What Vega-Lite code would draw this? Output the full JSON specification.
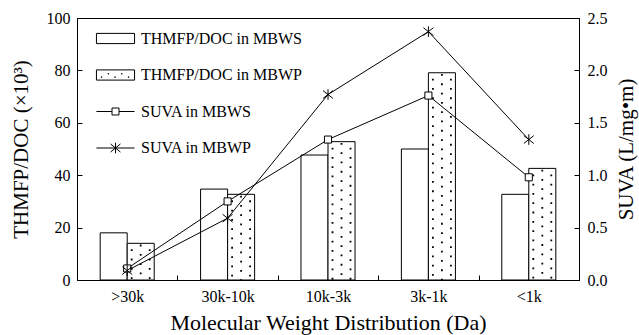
{
  "$schema": "https://vega.github.io/schema/vega-lite/v6.json",
  "width": 502,
  "height": 262,
  "autosize": {"type": "none"},
  "padding": {"left": 77, "top": 18, "right": 60, "bottom": 55},
  "background": "white",
  "config": {
    "font": "Liberation Serif",
    "view": {"stroke": "black", "strokeWidth": 1},
    "axis": {
      "labelFont": "Liberation Serif",
      "titleFont": "Liberation Serif",
      "labelFontSize": 16,
      "titleFontSize": 21,
      "titleFontWeight": "normal",
      "labelColor": "black",
      "titleColor": "black",
      "domainColor": "black",
      "tickColor": "black",
      "grid": false,
      "tickSize": -5
    },
    "legend": {"labelFont": "Liberation Serif", "labelFontSize": 16, "labelColor": "black", "labelLimit": 0}
  },
  "datasets": {
    "thm": [
      {"cat": ">30k", "series": "THMFP/DOC in MBWS", "val": 18.0},
      {"cat": ">30k", "series": "THMFP/DOC in MBWP", "val": 14.0},
      {"cat": "30k-10k", "series": "THMFP/DOC in MBWS", "val": 34.7},
      {"cat": "30k-10k", "series": "THMFP/DOC in MBWP", "val": 32.7},
      {"cat": "10k-3k", "series": "THMFP/DOC in MBWS", "val": 47.7},
      {"cat": "10k-3k", "series": "THMFP/DOC in MBWP", "val": 52.8},
      {"cat": "3k-1k", "series": "THMFP/DOC in MBWS", "val": 50.0},
      {"cat": "3k-1k", "series": "THMFP/DOC in MBWP", "val": 79.1},
      {"cat": "<1k", "series": "THMFP/DOC in MBWS", "val": 32.7},
      {"cat": "<1k", "series": "THMFP/DOC in MBWP", "val": 42.6}
    ],
    "suva": [
      {"cat": ">30k", "series": "SUVA in MBWS", "suva": 0.11},
      {"cat": "30k-10k", "series": "SUVA in MBWS", "suva": 0.75},
      {"cat": "10k-3k", "series": "SUVA in MBWS", "suva": 1.34},
      {"cat": "3k-1k", "series": "SUVA in MBWS", "suva": 1.76},
      {"cat": "<1k", "series": "SUVA in MBWS", "suva": 0.98},
      {"cat": ">30k", "series": "SUVA in MBWP", "suva": 0.09},
      {"cat": "30k-10k", "series": "SUVA in MBWP", "suva": 0.59},
      {"cat": "10k-3k", "series": "SUVA in MBWP", "suva": 1.77},
      {"cat": "3k-1k", "series": "SUVA in MBWP", "suva": 2.37},
      {"cat": "<1k", "series": "SUVA in MBWP", "suva": 1.34}
    ]
  },
  "encoding": {
    "x": {
      "field": "cat",
      "type": "nominal",
      "sort": [">30k", "30k-10k", "10k-3k", "3k-1k", "<1k"],
      "scale": {"domain": [">30k", "30k-10k", "10k-3k", "3k-1k", "<1k"], "paddingInner": 0, "paddingOuter": 0},
      "axis": {"title": "Molecular Weight Distribution (Da)", "titleFontSize": 22, "labelAngle": 0, "tickBand": "extent", "labelPadding": 13, "titlePadding": 8}
    }
  },
  "layer": [
    {
      "data": {"name": "thm"},
      "encoding": {
        "y": {
          "field": "val",
          "type": "quantitative",
          "scale": {"domain": [0, 100], "nice": false},
          "axis": {"title": "THMFP/DOC (×10³)", "values": [0, 20, 40, 60, 80, 100], "labelPadding": 12, "titlePadding": 15}
        }
      },
      "layer": [
        {
          "mark": {"type": "bar", "fill": "white", "stroke": "black", "strokeWidth": 1},
          "encoding": {
            "xOffset": {
              "field": "series",
              "type": "nominal",
              "scale": {"domain": ["THMFP/DOC in MBWS", "THMFP/DOC in MBWP"], "paddingOuter": 0.858, "paddingInner": 0}
            }
          }
        },
        {
          "transform": [{"filter": "datum.series === 'THMFP/DOC in MBWP'"}],
          "mark": {"type": "rule", "xOffset": 4.5, "color": "black", "strokeWidth": 1.8, "strokeDash": [1.8, 7.5], "strokeDashOffset": 3.3},
          "encoding": {"y2": {"datum": 0}}
        },
        {
          "transform": [{"filter": "datum.series === 'THMFP/DOC in MBWP'"}],
          "mark": {"type": "rule", "xOffset": 13.5, "color": "black", "strokeWidth": 1.8, "strokeDash": [1.8, 7.5], "strokeDashOffset": 8.0},
          "encoding": {"y2": {"datum": 0}}
        },
        {
          "transform": [{"filter": "datum.series === 'THMFP/DOC in MBWP'"}],
          "mark": {"type": "rule", "xOffset": 22.5, "color": "black", "strokeWidth": 1.8, "strokeDash": [1.8, 7.5], "strokeDashOffset": 3.3},
          "encoding": {"y2": {"datum": 0}}
        }
      ]
    },
    {
      "data": {"name": "suva"},
      "encoding": {
        "y": {
          "field": "suva",
          "type": "quantitative",
          "scale": {"domain": [0, 2.5], "nice": false},
          "axis": {"orient": "right", "title": "SUVA (L/mg•m)", "values": [0, 0.5, 1, 1.5, 2, 2.5], "format": ".1f", "labelPadding": 13, "titlePadding": 8, "titleAngle": -90, "titleBaseline": "top"}
        }
      },
      "layer": [
        {
          "mark": {"type": "line", "color": "black", "strokeWidth": 1},
          "encoding": {"detail": {"field": "series", "type": "nominal"}}
        },
        {
          "transform": [{"filter": "datum.series === 'SUVA in MBWS'"}],
          "mark": {"type": "point", "shape": "square", "filled": true, "fill": "white", "stroke": "black", "strokeWidth": 1, "opacity": 1, "size": 50}
        },
        {
          "transform": [{"filter": "datum.series === 'SUVA in MBWP'"}],
          "mark": {"type": "point", "shape": "M-1.4,-1.1L1.4,1.1M-1.4,1.1L1.4,-1.1M0,-1.5V1.5", "filled": false, "stroke": "black", "strokeWidth": 1, "opacity": 1, "size": 50}
        },
        {
          "mark": {"type": "point", "opacity": 0, "size": 50},
          "encoding": {
            "shape": {
              "field": "series",
              "type": "nominal",
              "scale": {
                "domain": ["THMFP/DOC in MBWS", "THMFP/DOC in MBWP", "SUVA in MBWS", "SUVA in MBWP"],
                "range": [
                  "M-1.27,-0.34H1.27V0.34H-1.27Z",
                  "M-1.27,-0.34H1.27V0.34H-1.27ZM-0.95,0.12h0.04v0.04h-0.04ZM-0.5,-0.1h0.04v0.04h-0.04ZM-0.05,0.12h0.04v0.04h-0.04ZM0.4,-0.1h0.04v0.04h-0.04ZM0.85,0.12h0.04v0.04h-0.04Z",
                  "M-1.27,0H-0.233M0.233,0H1.27M-0.233,-0.233H0.233V0.233H-0.233Z",
                  "M-1.27,0H1.27M-0.33,-0.27L0.33,0.27M-0.33,0.27L0.33,-0.27M0,-0.35V0.35"
                ]
              },
              "legend": {
                "orient": "none",
                "legendX": 23,
                "legendY": 5,
                "title": null,
                "symbolSize": 900,
                "symbolOpacity": 1,
                "symbolFillColor": "white",
                "symbolStrokeColor": "black",
                "symbolStrokeWidth": 1,
                "labelOffset": 10,
                "labelFont": "Liberation Serif",
                "labelFontSize": 16,
                "labelLimit": 0,
                "rowPadding": 12.5
              }
            }
          }
        }
      ]
    }
  ],
  "resolve": {"scale": {"y": "independent"}}
}
